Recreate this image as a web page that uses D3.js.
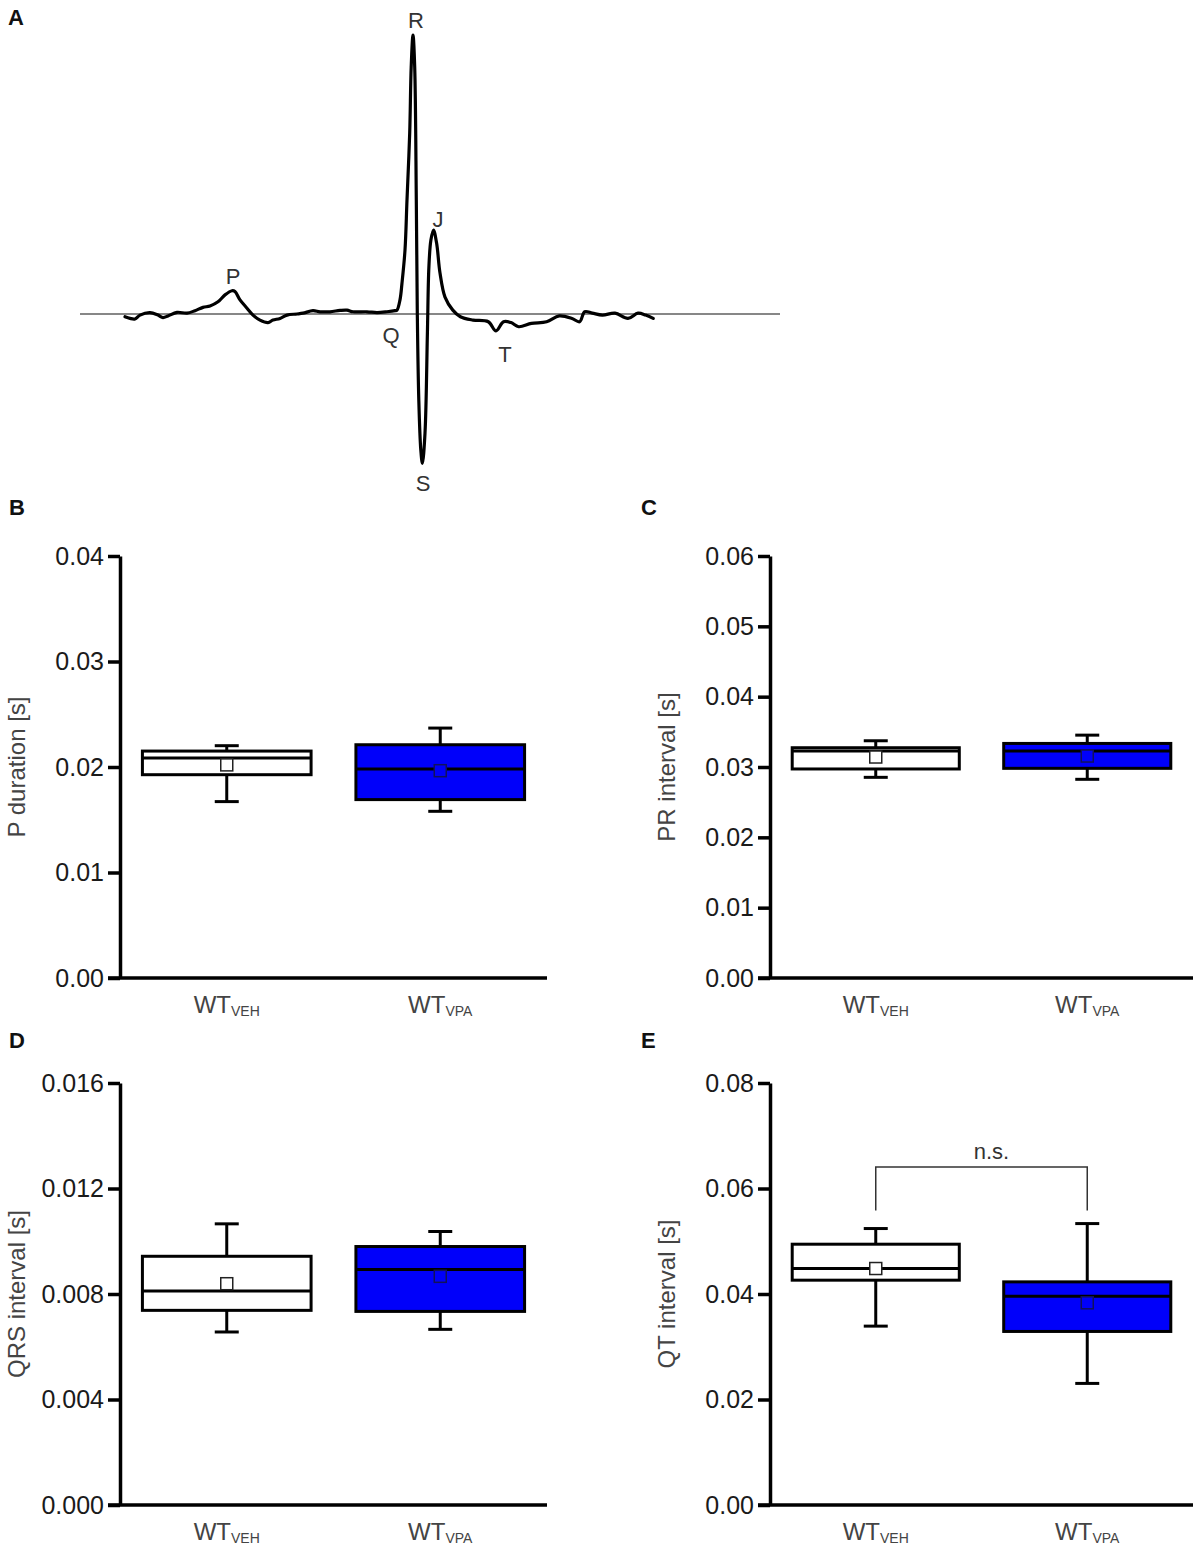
<!DOCTYPE html>
<html>
<head>
<meta charset="utf-8">
<script src="https://cdn.jsdelivr.net/npm/d3@7"></script>
<style>
  body { margin: 0; background: #fff; }
  svg { display: block; font-family: "Liberation Sans", Arial, sans-serif; }
</style>
</head>
<body>
<svg id="fig" width="1195" height="1552"></svg>
<script>
// ---- data ----
var groups = ["VEH", "VPA"];
var groupFill = ["#ffffff", "#0000fa"];
var groupMeanStroke = ["#222222", "#12125a"];

// ECG trace, time [ms] and amplitude (R peak ~ 1)
var ecgTime = [9.0, 10.0, 11.0, 12.0, 14.0, 15.6, 16.6, 17.6, 19.4, 21.4, 23.0, 24.6, 26.0, 27.6, 29.0, 30.4, 31.0,
    32.0, 33.4, 34.6, 36.0, 37.6, 38.6, 40.0, 41.4, 43.4, 44.6, 46.6, 48.0, 50.0, 52.0, 53.4, 54.6, 57.4, 59.4,
    61.4, 63.0, 63.4, 64.0, 64.4, 65.0, 65.4, 65.94, 66.24, 66.6, 66.94, 67.26, 67.46, 67.76, 68.16, 68.48, 69.0,
    69.48, 69.78, 70.18, 70.7, 71.32, 72.0, 73.0, 74.56, 76.08, 78.6, 81.66, 83.2, 84.7, 86.2, 87.74, 90.28,
    93.32, 95.86, 98.4, 99.92, 100.94, 102.46, 104.48, 107.0, 109.6, 111.6, 113.12, 114.64];
var ecgAmp = [-0.010, -0.016, -0.018, -0.004, 0.005, -0.004, -0.013, -0.007, 0.006, 0.003, 0.012, 0.024, 0.029,
    0.044, 0.069, 0.084, 0.081, 0.051, 0.021, -0.004, -0.022, -0.031, -0.022, -0.016, -0.004, 0.000, 0.003, 0.012,
    0.008, 0.008, 0.013, 0.014, 0.008, 0.008, 0.005, 0.008, 0.012, 0.014, 0.051, 0.112, 0.231, 0.412, 0.653, 0.892,
    1.007, 0.892, 0.412, 0.004, -0.310, -0.491, -0.539, -0.430, -0.069, 0.170, 0.267, 0.303, 0.256, 0.148, 0.061,
    0.014, -0.010, -0.022, -0.028, -0.061, -0.028, -0.031, -0.046, -0.034, -0.028, -0.007, -0.016, -0.028, 0.008,
    0.003, -0.004, 0.003, -0.016, 0.003, -0.004, -0.016];
var waveNames = ["P", "Q", "R", "S", "J", "T"];
var waveLabelTime = [30.6, 62.2, 67.2, 68.6, 71.6, 85.0];
var waveLabelAmp = [0.108, -0.105, 1.032, -0.639, 0.314, -0.173];

// box summaries: [whisker low, q1, median, q3, whisker high]
var pDurationBoxes = [[0.01672, 0.01927, 0.02085, 0.02151, 0.02202], [0.01580, 0.01691, 0.01981, 0.02211, 0.02369]];
var pDurationMeans = [0.0202, 0.01965];
var pDurationTicks = [0, 0.01, 0.02, 0.03, 0.04];

var prIntervalBoxes = [[0.02853, 0.02972, 0.03227, 0.03274, 0.03373], [0.02825, 0.02981, 0.03227, 0.03335, 0.03453]];
var prIntervalMeans = [0.03142, 0.03156];
var prIntervalTicks = [0, 0.01, 0.02, 0.03, 0.04, 0.05, 0.06];

var qrsIntervalBoxes = [[0.00656, 0.00738, 0.00811, 0.00943, 0.01066], [0.00666, 0.00734, 0.00893, 0.00980, 0.01037]];
var qrsIntervalMeans = [0.00839, 0.00867];
var qrsIntervalTicks = [0, 0.004, 0.008, 0.012, 0.016];

var qtIntervalBoxes = [[0.03391, 0.04262, 0.04483, 0.04944, 0.05241], [0.02305, 0.03290, 0.03959, 0.04230, 0.05335]];
var qtIntervalMeans = [0.04483, 0.03833];
var qtIntervalTicks = [0, 0.02, 0.04, 0.06, 0.08];
var qtBracket = [0.05582, 0.06409];

var svg = d3.select("#fig");

// ---- panel letters ----
var letters = [["A", 8, 25], ["B", 9, 515], ["C", 641, 515], ["D", 9, 1048], ["E", 641, 1048]];
svg.selectAll("text.letter").data(letters).enter().append("text")
    .attr("class", "letter")
    .attr("x", d => d[1])
    .attr("y", d => d[2])
    .attr("font-size", 22).attr("font-weight", "bold").attr("fill", "#111")
    .text(d => d[0]);

// ---- panel A: ECG ----
(function () {
    var x = d3.scaleLinear().domain([0, 140]).range([80, 780]);
    var y = d3.scaleLinear().domain([0, 1]).range([314, 37]);
    var g = svg.append("g");

    g.append("line")
        .attr("x1", x(0)).attr("x2", x(140))
        .attr("y1", y(0)).attr("y2", y(0))
        .attr("stroke", "#111").attr("stroke-width", 1.2);

    var pts = ecgTime.map((t, i) => [t, ecgAmp[i]]);
    var line = d3.line()
        .x(d => x(d[0]))
        .y(d => y(d[1]))
        .curve(d3.curveCatmullRom.alpha(0.5));
    g.append("path")
        .attr("d", line(pts))
        .attr("fill", "none")
        .attr("stroke", "#000")
        .attr("stroke-width", 3.2)
        .attr("stroke-linejoin", "round")
        .attr("stroke-linecap", "round");

    g.selectAll("text.wave").data(waveNames).enter().append("text")
        .attr("class", "wave")
        .attr("x", (d, i) => x(waveLabelTime[i]))
        .attr("y", (d, i) => y(waveLabelAmp[i]))
        .attr("text-anchor", "middle")
        .attr("font-size", 22)
        .attr("fill", "#333")
        .text(d => d);
})();

// ---- box panels ----
function boxPanel(opt) {
    var g = svg.append("g");
    var y = d3.scaleLinear().domain([0, opt.ticks[opt.ticks.length - 1]]).range([opt.bottom, opt.top]);
    var x = d3.scaleBand().domain(groups).range([opt.left, opt.left + opt.width]).padding(0);
    var bw = x.bandwidth() * 0.79;
    var cx = d => x(d) + x.bandwidth() / 2;

    // x axis line
    g.append("line")
        .attr("x1", opt.left - 12).attr("x2", opt.left + opt.width)
        .attr("y1", y(0)).attr("y2", y(0))
        .attr("stroke", "#000").attr("stroke-width", 3.5);

    // y axis
    var ax = g.append("g")
        .attr("transform", "translate(" + opt.left + ",0)")
        .call(d3.axisLeft(y).tickValues(opt.ticks).tickFormat(d3.format(opt.fmt))
            .tickSize(12).tickSizeOuter(0).tickPadding(4));
    ax.select(".domain").attr("stroke", "#000").attr("stroke-width", 3.5);
    ax.selectAll(".tick line").attr("stroke", "#000").attr("stroke-width", 3.5);
    ax.selectAll(".tick text")
        .attr("font-size", 25)
        .attr("fill", "#1a1a1a")
        .attr("font-family", "'Liberation Sans', Arial, sans-serif");

    // y label
    g.append("text")
        .attr("transform", "translate(" + (opt.left - 103) + "," + ((opt.top + opt.bottom) / 2) + ") rotate(-90)")
        .attr("text-anchor", "middle")
        .attr("dy", "0.35em")
        .attr("font-size", 24)
        .attr("fill", "#444")
        .text(opt.label);

    // x labels
    var xl = g.selectAll("text.xl").data(groups).enter().append("text")
        .attr("class", "xl")
        .attr("x", d => cx(d))
        .attr("y", y(0) + 35)
        .attr("text-anchor", "middle")
        .attr("fill", "#444");
    xl.append("tspan").attr("font-size", 24).text("WT");
    xl.append("tspan").attr("font-size", 14).attr("dy", 3).text(d => d);

    // boxes
    var box = g.selectAll("g.box").data(groups).enter().append("g").attr("class", "box");
    box.append("line")
        .attr("x1", d => cx(d)).attr("x2", d => cx(d))
        .attr("y1", (d, i) => y(opt.boxes[i][0])).attr("y2", (d, i) => y(opt.boxes[i][4]))
        .attr("stroke", "#000").attr("stroke-width", 3);
    box.append("line")
        .attr("x1", d => cx(d) - 12).attr("x2", d => cx(d) + 12)
        .attr("y1", (d, i) => y(opt.boxes[i][0])).attr("y2", (d, i) => y(opt.boxes[i][0]))
        .attr("stroke", "#000").attr("stroke-width", 3);
    box.append("line")
        .attr("x1", d => cx(d) - 12).attr("x2", d => cx(d) + 12)
        .attr("y1", (d, i) => y(opt.boxes[i][4])).attr("y2", (d, i) => y(opt.boxes[i][4]))
        .attr("stroke", "#000").attr("stroke-width", 3);
    box.append("rect")
        .attr("x", d => cx(d) - bw / 2).attr("width", bw)
        .attr("y", (d, i) => y(opt.boxes[i][3]))
        .attr("height", (d, i) => y(opt.boxes[i][1]) - y(opt.boxes[i][3]))
        .attr("fill", (d, i) => groupFill[i])
        .attr("stroke", "#000").attr("stroke-width", 3);
    box.append("line")
        .attr("x1", d => cx(d) - bw / 2).attr("x2", d => cx(d) + bw / 2)
        .attr("y1", (d, i) => y(opt.boxes[i][2])).attr("y2", (d, i) => y(opt.boxes[i][2]))
        .attr("stroke", "#000").attr("stroke-width", 3);
    box.append("rect")
        .attr("x", d => cx(d) - 6).attr("width", 12)
        .attr("y", (d, i) => y(opt.means[i]) - 6).attr("height", 12)
        .attr("fill", (d, i) => groupFill[i])
        .attr("stroke", (d, i) => groupMeanStroke[i]).attr("stroke-width", 1.5);

    if (opt.bracket) {
        var b = opt.bracket;
        g.append("path")
            .attr("d", d3.line()([[cx(groups[0]), y(b[0])], [cx(groups[0]), y(b[1])],
                [cx(groups[1]), y(b[1])], [cx(groups[1]), y(b[0])]]))
            .attr("fill", "none").attr("stroke", "#333").attr("stroke-width", 1.5);
        g.append("text")
            .attr("x", (cx(groups[0]) + cx(groups[1])) / 2 + 10)
            .attr("y", y(b[1]) - 8)
            .attr("text-anchor", "middle")
            .attr("font-size", 22)
            .attr("fill", "#333")
            .text("n.s.");
    }
}

boxPanel({left: 120, width: 427, top: 556, bottom: 978, ticks: pDurationTicks, fmt: ".2f",
    boxes: pDurationBoxes, means: pDurationMeans, label: "P duration [s]"});
boxPanel({left: 770, width: 423, top: 556, bottom: 978, ticks: prIntervalTicks, fmt: ".2f",
    boxes: prIntervalBoxes, means: prIntervalMeans, label: "PR interval [s]"});
boxPanel({left: 120, width: 427, top: 1083, bottom: 1505, ticks: qrsIntervalTicks, fmt: ".3f",
    boxes: qrsIntervalBoxes, means: qrsIntervalMeans, label: "QRS interval [s]"});
boxPanel({left: 770, width: 423, top: 1083, bottom: 1505, ticks: qtIntervalTicks, fmt: ".2f",
    boxes: qtIntervalBoxes, means: qtIntervalMeans, label: "QT interval [s]", bracket: qtBracket});
</script>
</body>
</html>
